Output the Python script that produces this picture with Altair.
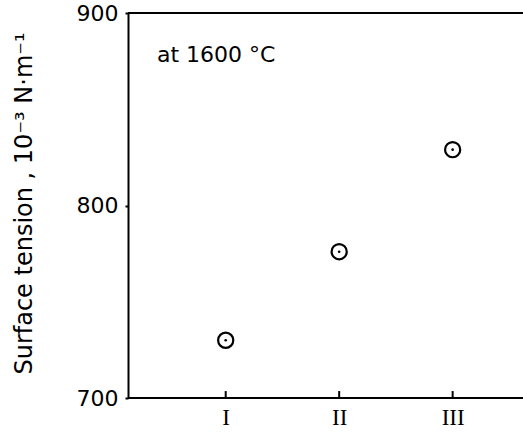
import altair as alt
import pandas as pd

groups = ["I", "II", "III"]
positions = [1, 2, 3]
tension = [730, 776, 829]
y_ticks = [700, 800, 900]
annotation = "at 1600 °C"

df = pd.DataFrame({"pos": positions, "group": groups, "tension": tension})
tick_df = pd.DataFrame({"pos": positions, "y0": [700] * 3, "y1": [703.6] * 3})

label_expr = " : ".join(
    [f"datum.value == {p} ? '{g}'" for p, g in zip(positions[:-1], groups[:-1])]
) + f" : '{groups[-1]}'"

xs = alt.Scale(domain=[0.139, 3.62], nice=False, zero=False)
ys = alt.Scale(domain=[700, 900], nice=False, zero=False)

x_axis = alt.Axis(values=positions, labelExpr=label_expr, ticks=False, grid=False,
                  domain=False, labelFont="Liberation Serif", labelFlush=False,
                  labelFontSize=23, labelColor="black", labelPadding=8, title=None)
y_axis = alt.Axis(values=y_ticks, grid=False, domainColor="black", domainWidth=2,
                  tickColor="black", tickWidth=2, tickSize=3, labelPadding=7,
                  labelFont="DejaVu Sans", labelFontSize=22, labelColor="black",
                  title="Surface tension ,  10⁻³  N·m⁻¹", titleFont="DejaVu Sans",
                  titleFontSize=24, titleFontWeight="normal", titleColor="black",
                  titleAngle=-90, titleX=-104, titleY=190, titleBaseline="middle",
                  titleAlign="center")

base = alt.Chart(df)

circles = base.mark_point(shape="circle", size=230, filled=False, color="black",
                          strokeWidth=2.2, opacity=1).encode(
    x=alt.X("pos:Q", scale=xs, axis=x_axis),
    y=alt.Y("tension:Q", scale=ys, axis=y_axis),
)
dots = base.mark_point(shape="circle", size=7, filled=True, color="black", opacity=1).encode(
    x=alt.X("pos:Q", scale=xs),
    y=alt.Y("tension:Q", scale=ys),
)
ticks = alt.Chart(tick_df).mark_rule(color="black", strokeWidth=2).encode(
    x=alt.X("pos:Q", scale=xs),
    y=alt.Y("y0:Q", scale=ys),
    y2="y1:Q",
)
frame = alt.Chart(pd.DataFrame({"y": [700, 900]})).mark_rule(color="black", strokeWidth=2).encode(
    y=alt.Y("y:Q", scale=ys),
    x=alt.value(0),
    x2=alt.value(395),
)
text = alt.Chart(pd.DataFrame({"x": [0.394], "y": [878], "t": [annotation]})).mark_text(
    align="left", baseline="middle", font="DejaVu Sans", fontSize=22, color="black"
).encode(
    x=alt.X("x:Q", scale=xs),
    y=alt.Y("y:Q", scale=ys),
    text="t:N",
)

chart = alt.layer(circles, dots, ticks, frame, text).properties(
    width=395, height=385,
    autosize=alt.AutoSizeParams(type="none"),
    padding={"left": 128, "top": 13, "right": 0, "bottom": 35},
    background="white",
).configure_view(stroke=None)

chart.save("out.html", embed_options={"renderer": "svg", "actions": False})
